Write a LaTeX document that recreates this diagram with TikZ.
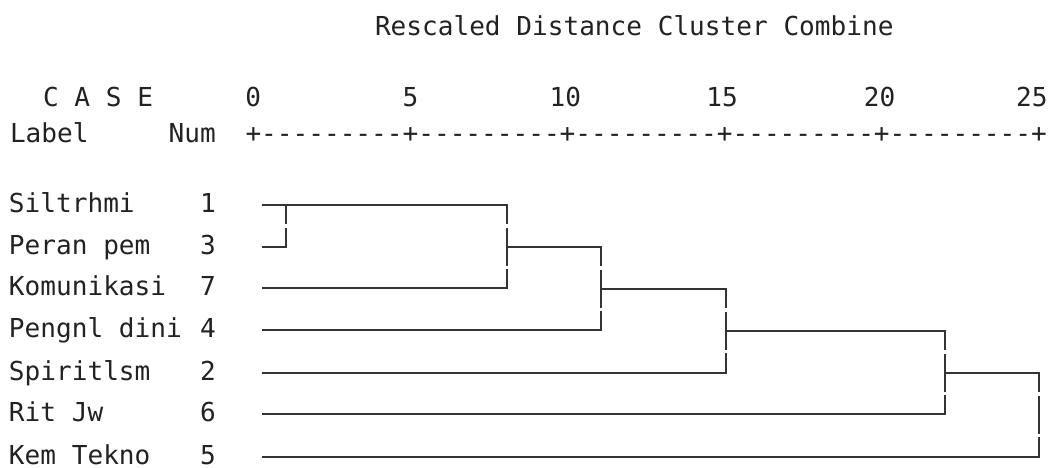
\documentclass[tikz,border=0pt]{standalone}
\usepackage{fontspec}
\newfontfamily\dendrofont{DejaVu Sans Mono}
\definecolor{ink}{HTML}{222222}
\definecolor{wire}{HTML}{333333}
\begin{document}
\begin{tikzpicture}[x=1pt,y=-1pt,
  txt/.style={inner sep=0pt, outer sep=0pt, text depth=0pt,
    font=\dendrofont\fontsize{26.1}{26.1}\selectfont, text=ink},
  branch/.style={draw=wire, line width=1.3pt, line cap=rect},
  stem/.style={branch, dash pattern=on 18.5pt off 5pt on 36.5pt off 5pt},
  shortstem/.style={branch, dash pattern=on 18.5pt off 5pt on 30pt off 5pt}
]
\useasboundingbox (0,0) rectangle (1049,468);
\fill[white] (0,0) rectangle (1049,468);

% header
\node[txt, anchor=base west] (title) at (375,36) {Rescaled Distance Cluster Combine};
\node[txt, anchor=base west] (case) at (43,106.7) {C A S E};
\node[txt, anchor=base west] (label) at (10,142.7) {Label};
\node[txt, anchor=base east] (num) at (215.8,142.7) {Num};
\node[txt, anchor=base west] (axis) at (245.5,142.7) {+---------+---------+---------+---------+---------+};
\foreach \v/\p in {0/253.3, 5/410.6}
  \node[txt, anchor=base] (tick\v) at (\p,106.7) {\v};
\foreach \v/\p in {10/565.4, 15/722.2, 20/879.5}
  \node[txt, anchor=base] (tick\v) at (\p,106.7) {\v};
\node[txt, anchor=base east] (tick25) at (1047.5,106.7) {25};

% cases, in dendrogram order
\foreach \i/\name/\n/\y in {1/Siltrhmi/1/205, 2/Peran pem/3/247, 3/Komunikasi/7/288,
    4/Pengnl dini/4/330, 5/Spiritlsm/2/373, 6/Rit Jw/6/414, 7/Kem Tekno/5/457}{
  \node[txt, anchor=base west] (lab\i) at (9,\y+7.5) {\name};
  \node[txt, anchor=base east] (num\i) at (215.8,\y+7.5) {\n};
  \coordinate (leaf\i) at (263,\y);
}

% merge points: top, bottom and outgoing level of each joining stem
\coordinate (aT) at (286,205);  \coordinate (aB) at (286,247);
\coordinate (bT) at (507,205);  \coordinate (bB) at (507,288);  \coordinate (bM) at (507,247);
\coordinate (cT) at (601,247);  \coordinate (cB) at (601,330);  \coordinate (cM) at (601,289);
\coordinate (dT) at (726,289);  \coordinate (dB) at (726,373);  \coordinate (dM) at (726,331);
\coordinate (eT) at (945,331);  \coordinate (eB) at (945,414);  \coordinate (eM) at (945,373);
\coordinate (fT) at (1039,373); \coordinate (fB) at (1039,457);

% horizontal branches
\draw[branch] (leaf1) -- (bT);
\draw[branch] (leaf2) -- (aB);
\draw[branch] (leaf3) -- (bB);
\draw[branch] (bM) -- (cT);
\draw[branch] (leaf4) -- (cB);
\draw[branch] (cM) -- (dT);
\draw[branch] (leaf5) -- (dB);
\draw[branch] (dM) -- (eT);
\draw[branch] (leaf6) -- (eB);
\draw[branch] (eM) -- (fT);
\draw[branch] (leaf7) -- (fB);

% vertical stems
\draw[shortstem] (aT) -- (aB);
\draw[stem] (bT) -- (bB);
\draw[stem] (cT) -- (cB);
\draw[stem] (dT) -- (dB);
\draw[stem] (eT) -- (eB);
\draw[stem] (fT) -- (fB);
\end{tikzpicture}
\end{document}
